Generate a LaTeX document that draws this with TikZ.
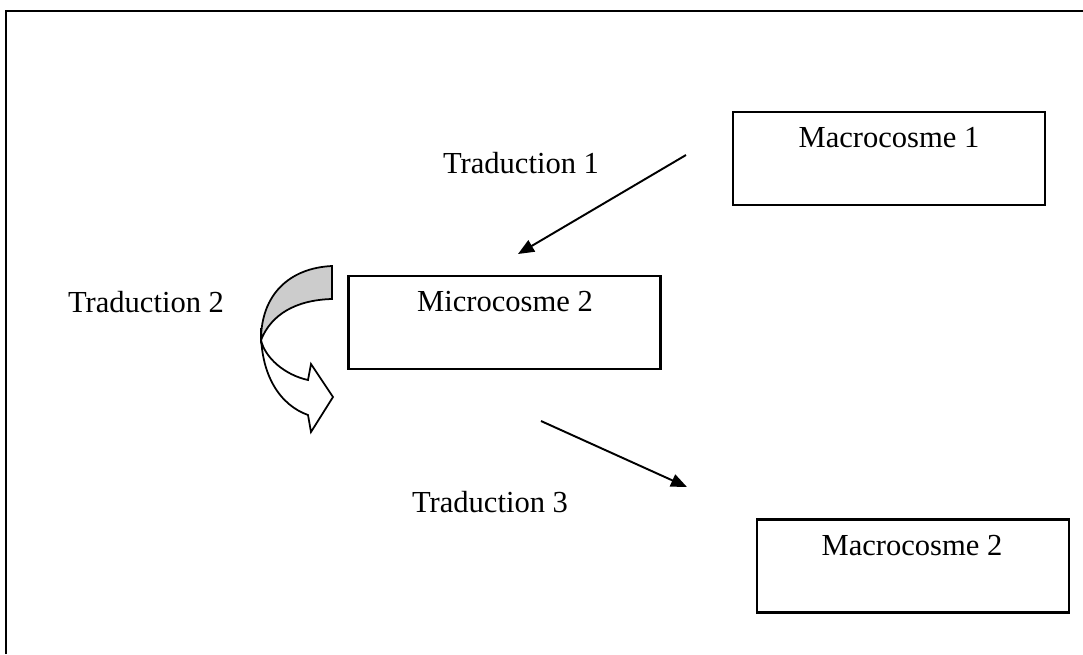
\documentclass[tikz,border=0pt]{standalone}
\usepackage{fontspec}
\setmainfont{Liberation Serif}
\usetikzlibrary{arrows.meta}
\begin{document}
\begin{tikzpicture}[x=0.02cm,y=-0.02cm,
  box/.style={draw,line width=1.2pt,minimum width=312*0.02cm,minimum height=93*0.02cm,inner sep=0pt},
  lbl/.style={font=\fontsize{17.4}{20}\selectfont,inner sep=0pt},
  conn/.style={line width=1.1pt,-{Triangle[length=0.32cm,width=0.26cm]}},
  frame/.style={line width=1.3pt}]
\useasboundingbox (0,0) rectangle (1083,654);
% open frame
\coordinate (fl) at (6,654);
\coordinate (fc) at (6,11);
\coordinate (fr) at (1083,11);
\draw[frame] (fl) -- (fc) -- (fr);
% boxes
\node[box] (mac1) at (889,158.5) {};
\node[box] (mic2) at (504.5,322.5) {};
\node[box] (mac2) at (913,566) {};
\node[lbl] (tmac1) at (889,138) {Macrocosme 1};
\node[lbl] (tmic2) at (505,302) {Microcosme 2};
\node[lbl] (tmac2) at (912,546) {Macrocosme 2};
% labels
\node[lbl] (t1) at (521,163) {Traduction 1};
\node[lbl] (t2) at (146,302) {Traduction 2};
\node[lbl] (t3) at (490,502) {Traduction 3};
% straight connectors
\coordinate (a1s) at (686,155);
\coordinate (a1e) at (518,254);
\coordinate (a3s) at (541,421);
\coordinate (a3e) at (687,487);
\draw[conn] (a1s) -- (a1e);
\draw[conn] (a3s) -- (a3e);
% curved block arrow
\draw[line width=1pt,fill=white,line join=miter]
  (261,328) .. controls (260,375) and (280,405) .. (308,415)
  -- (311,432) -- (333,397) -- (311,364) -- (308,380)
  .. controls (285,375) and (265,358) .. (261,340) -- cycle;
\draw[line width=1pt,fill=gray!40]
  (332,266) .. controls (289,268) and (261,295) .. (261,340)
  .. controls (271,315) and (295,300) .. (332,299) -- cycle;
\end{tikzpicture}
\end{document}
